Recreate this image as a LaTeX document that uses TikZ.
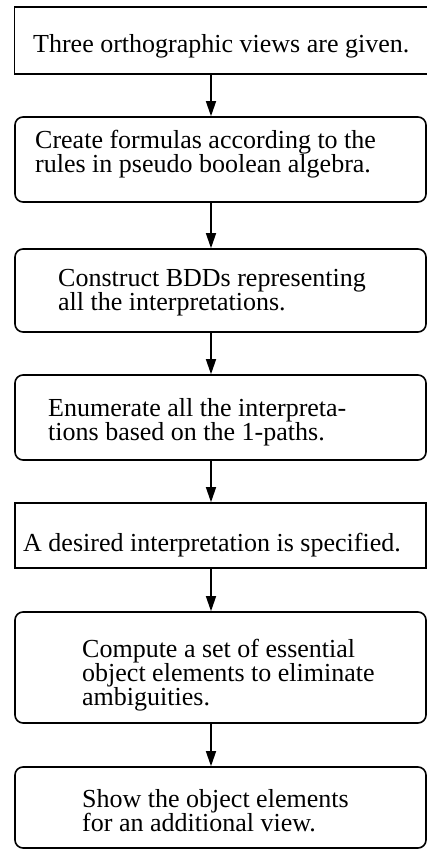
\documentclass[tikz,border=0pt]{standalone}
\usepackage{fontspec}
\setmainfont{Liberation Serif}
\usetikzlibrary{arrows.meta}
\begin{document}
\begin{tikzpicture}[x=1pt,y=-1pt,
  boxline/.style={line width=1.6pt},
  txt/.style={anchor=base west,inner sep=0pt,align=left,font=\fontsize{26}{24}\selectfont},
  flow/.style={line width=1.4pt,-{Triangle[length=15pt,width=10pt]}}]
\useasboundingbox (0,0) rectangle (427,852);
% boxes
\node[boxline,draw,rectangle,minimum width=413pt,minimum height=67pt,inner sep=0pt] (b1) at (221,40.5) {};
\node[boxline,draw,rectangle,rounded corners=8pt,minimum width=411pt,minimum height=85pt,inner sep=0pt] (b2) at (220.5,159.5) {};
\node[boxline,draw,rectangle,rounded corners=8pt,minimum width=411pt,minimum height=83pt,inner sep=0pt] (b3) at (220.5,290.5) {};
\node[boxline,draw,rectangle,rounded corners=8pt,minimum width=411pt,minimum height=85pt,inner sep=0pt] (b4) at (220.5,417.5) {};
\node[boxline,draw,rectangle,minimum width=411pt,minimum height=65pt,inner sep=0pt] (b5) at (220.5,535.5) {};
\node[boxline,draw,rectangle,rounded corners=8pt,minimum width=411pt,minimum height=111pt,inner sep=0pt] (b6) at (220.5,667.5) {};
\node[boxline,draw,rectangle,rounded corners=8pt,minimum width=411pt,minimum height=81pt,inner sep=0pt] (b7) at (220.5,807.5) {};
% texts (anchored at the baseline of the last line)
\node[txt] (t1) at (33,52) {Three orthographic views are given.};
\node[txt] (t2) at (35,172) {Create formulas according to the\\rules in pseudo boolean algebra.};
\node[txt] (t3) at (58,310) {Construct BDDs representing\\all the interpretations.};
\node[txt] (t4) at (48,440) {Enumerate all the interpreta-\\tions based on the 1-paths.};
\node[txt] (t5) at (23,551) {A desired interpretation is specified.};
\node[txt] (t6) at (82,705) {Compute a set of essential\\object elements to eliminate\\ambiguities.};
\node[txt] (t7) at (82,831) {Show the object elements\\for an additional view.};
% connectors
\coordinate (ax) at (211,0);
\draw[flow] (b1.south -| ax) -- (b2.north -| ax);
\draw[flow] (b2.south -| ax) -- (b3.north -| ax);
\draw[flow] (b3.south -| ax) -- (b4.north -| ax);
\draw[flow] (b4.south -| ax) -- (b5.north -| ax);
\draw[flow] (b5.south -| ax) -- (b6.north -| ax);
\draw[flow] (b6.south -| ax) -- (b7.north -| ax);
\end{tikzpicture}
\end{document}
